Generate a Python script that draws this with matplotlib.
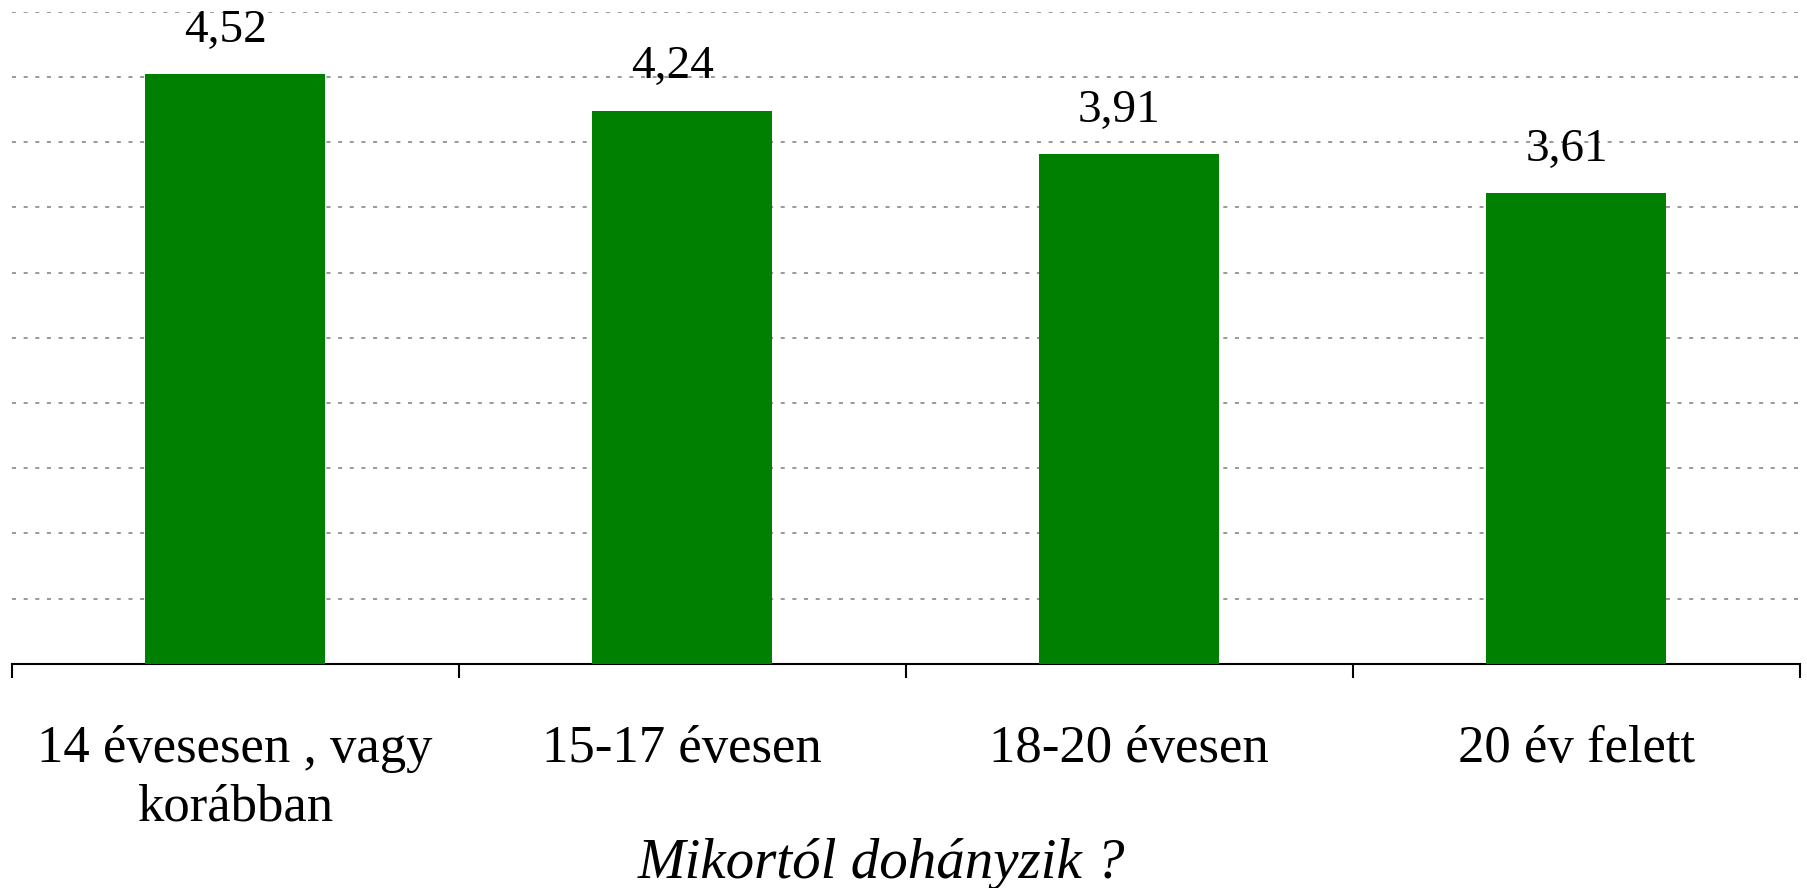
import numpy as np
import matplotlib.pyplot as plt

# data
categories = ['14 évesesen , vagy\nkorábban', '15-17 évesen', '18-20 évesen', '20 év felett']
values = [4.52, 4.24, 3.91, 3.61]
grid_levels = np.arange(0.5, 5.01, 0.5)

plt.rcParams['font.family'] = ['Liberation Serif', 'DejaVu Serif']

fig = plt.figure(figsize=(18.07, 8.88), dpi=100)
ax = fig.add_axes([0.0064, 0.2523, 0.9896, 0.7347])

x = np.arange(len(categories))
ax.bar(x, values, width=0.403, color='#008000', zorder=3)

# value labels (decimal comma), sitting a bit left of bar centre like the original
for xi, v in zip(x, values):
    ax.annotate(f'{v:.2f}'.replace('.', ','), xy=(xi, v), xytext=(-7, 16),
                textcoords='offset points', ha='center', va='bottom',
                fontsize=34, color='black')

# dotted grid
for g in grid_levels:
    ax.axhline(g, color='#999999', linestyle=(0, (2.06, 3.93)), linewidth=1.4, zorder=1)

ax.set_xlim(-0.5, len(categories) - 0.5)
ax.set_ylim(0, 5.0)

for side in ['left', 'right', 'top']:
    ax.spines[side].set_visible(False)
ax.spines['bottom'].set_linewidth(1.5)
ax.set_yticks([])

ax.set_xticks(x)
ax.set_xticklabels(categories, fontsize=38, linespacing=1.27)
ax.tick_params(axis='x', which='major', length=0, pad=44)
ax.set_xticks(np.arange(-0.5, len(categories), 1.0), minor=True)
ax.tick_params(axis='x', which='minor', length=10, width=1.5, direction='out')

# axis title
fig.text(0.488, 0.0113, 'Mikortól dohányzik ?', fontsize=41, style='italic',
         ha='center', va='baseline')

fig.savefig('out.png', dpi=100)
